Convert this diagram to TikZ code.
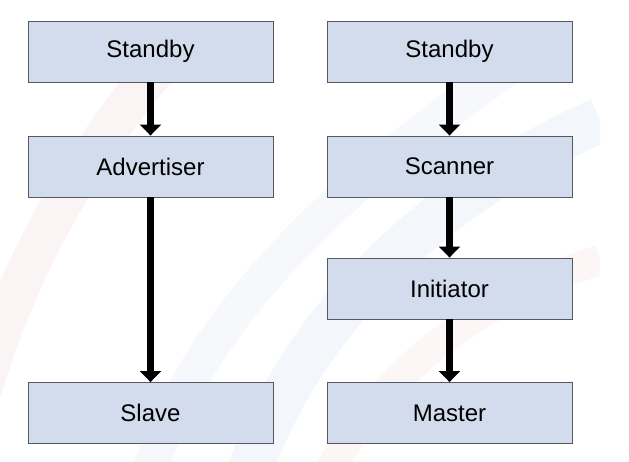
\documentclass[tikz,border=0pt]{standalone}
\usepackage{fontspec}
\setmainfont{Liberation Sans}
\usetikzlibrary{arrows.meta}
\definecolor{boxfill}{HTML}{D2DCEC}
\definecolor{boxline}{HTML}{55585F}
\definecolor{arcpink}{HTML}{F8E8EA}
\definecolor{arcblue}{HTML}{E9EEF6}
\begin{document}
\begin{tikzpicture}[x=1pt,y=-1pt,
  box/.style={draw=boxline,line width=0.9pt,fill=boxfill,minimum width=245pt,minimum height=61pt,inner sep=0pt,font=\fontsize{24}{28}\selectfont},
  flow/.style={line width=7pt,-{Triangle[width=21pt,length=11pt]}}]
\useasboundingbox (0,0) rectangle (629,461);
\fill[white] (0,0) rectangle (629,461);
% faint background arcs
\begin{scope}
\clip (0,14) rectangle (600,461);
\draw[arcpink,line width=40pt,opacity=0.45] (-40,470) .. controls (0,300) and (60,180) .. (180,40);
\draw[arcblue,line width=45pt,opacity=0.5] (250,470) .. controls (300,330) and (420,200) .. (600,120);
\draw[arcblue,line width=35pt,opacity=0.4] (150,470) .. controls (200,320) and (330,190) .. (520,60);
\draw[arcpink,line width=30pt,opacity=0.35] (330,470) .. controls (380,380) and (470,300) .. (600,260);
\end{scope}
\node[box] (sl) at (150.5,51.5) {Standby};
\node[box] (ad) at (150.5,166.5) {Advertiser};
\node[box] (sv) at (150.5,413) {Slave};
\node[box] (sr) at (449.5,51.5) {Standby};
\node[box] (sc) at (449.5,166.5) {Scanner};
\node[box] (in) at (449.5,288.5) {Initiator};
\node[box] (ma) at (449.5,413) {Master};
\draw[flow] (sl.south) -- (ad.north);
\draw[flow] (ad.south) -- (sv.north);
\draw[flow] (sr.south) -- (sc.north);
\draw[flow] (sc.south) -- (in.north);
\draw[flow] (in.south) -- (ma.north);
\end{tikzpicture}
\end{document}
